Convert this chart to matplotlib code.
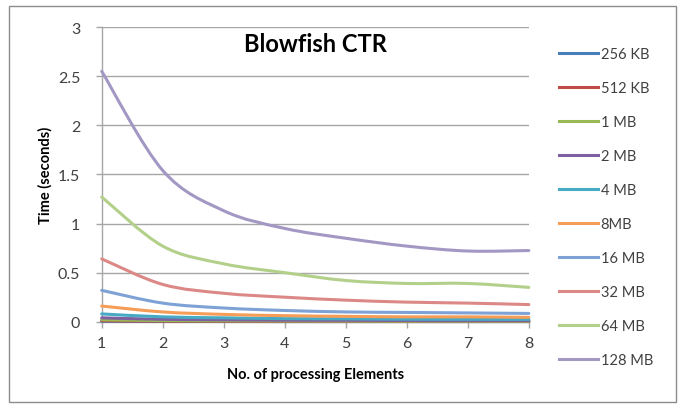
import matplotlib
matplotlib.use("Agg")
import matplotlib.pyplot as plt
from matplotlib.path import Path
from matplotlib.patches import PathPatch, Rectangle
from matplotlib.lines import Line2D
import numpy as np

# Processing elements and run times (seconds) per input size
elements = [1, 2, 3, 4, 5, 6, 7, 8]
labels = ["256 KB", "512 KB", "1 MB", "2 MB", "4 MB", "8MB",
          "16 MB", "32 MB", "64 MB", "128 MB"]
t_256kb = [0.005, 0.003, 0.003, 0.002, 0.002, 0.002, 0.002, 0.002]
t_512kb = [0.010, 0.006, 0.005, 0.004, 0.004, 0.003, 0.003, 0.003]
t_1mb = [0.020, 0.012, 0.010, 0.008, 0.007, 0.006, 0.006, 0.006]
t_2mb = [0.040, 0.025, 0.020, 0.016, 0.015, 0.013, 0.012, 0.012]
t_4mb = [0.080, 0.050, 0.040, 0.032, 0.030, 0.026, 0.025, 0.024]
t_8mb = [0.160, 0.100, 0.075, 0.062, 0.055, 0.050, 0.050, 0.045]
t_16mb = [0.320, 0.190, 0.140, 0.115, 0.100, 0.095, 0.090, 0.085]
t_32mb = [0.640, 0.380, 0.290, 0.250, 0.220, 0.200, 0.190, 0.175]
t_64mb = [1.270, 0.770, 0.590, 0.500, 0.420, 0.390, 0.390, 0.350]
t_128mb = [2.550, 1.540, 1.130, 0.950, 0.850, 0.770, 0.720, 0.725]
series = [t_256kb, t_512kb, t_1mb, t_2mb, t_4mb, t_8mb,
          t_16mb, t_32mb, t_64mb, t_128mb]
colors = ["#4A7EBB", "#BE4B48", "#98B954", "#7D60A0", "#46AAC5",
          "#F59D56", "#7EA1D6", "#DB8886", "#B3D08A", "#A397C4"]

y_ticks = [0, 0.5, 1, 1.5, 2, 2.5, 3]
y_tick_labels = ["0", "0.5", "1", "1.5", "2", "2.5", "3"]

TEXT = "#404040"
GRID = "#A6A6A6"
FONT = "Lato"


def smooth_path(xs, ys):
    """Cubic Bezier path through the points (Catmull-Rom style tangents)."""
    pts = np.column_stack([xs, ys]).astype(float)
    n = len(pts)
    verts = [pts[0]]
    codes = [Path.MOVETO]
    for i in range(n - 1):
        p0 = pts[i - 1] if i > 0 else pts[i]
        p1 = pts[i]
        p2 = pts[i + 1]
        p3 = pts[i + 2] if i + 2 < n else pts[i + 1]
        c1 = p1 + (p2 - p0) / 6.0
        c2 = p2 - (p3 - p1) / 6.0
        verts += [c1, c2, p2]
        codes += [Path.CURVE4] * 3
    return Path(verts, codes)


fig = plt.figure(figsize=(6.78, 4.06), dpi=100)
fig.patch.set_facecolor("white")

# outer chart border
fig.add_artist(Rectangle((9 / 678, 3 / 406), 667 / 678, 396 / 406,
                         transform=fig.transFigure, fill=False,
                         edgecolor="#8C8C8C", lw=1.0))

ax = fig.add_axes([0.150, 0.205, 0.630, 0.726])
ax.set_xlim(1, 8)
ax.set_ylim(0, 3)

for vals, col in zip(series, colors):
    patch = PathPatch(smooth_path(elements, vals), facecolor="none",
                      edgecolor=col, lw=2.2, capstyle="round",
                      joinstyle="round", transform=ax.transData,
                      clip_on=False, zorder=3)
    ax.add_patch(patch)

ax.set_yticks(y_ticks)
ax.set_yticklabels(y_tick_labels)
ax.set_xticks(elements)
ax.set_xticklabels([str(e) for e in elements])
ax.yaxis.grid(True, color=GRID, lw=1.0)
ax.set_axisbelow(True)

for side in ("top", "right"):
    ax.spines[side].set_visible(False)
for side in ("left", "bottom"):
    ax.spines[side].set_color(GRID)
    ax.spines[side].set_linewidth(1.0)

ax.tick_params(axis="both", colors=GRID, labelcolor=TEXT, length=4.5,
               width=1.0, labelsize=11.5)
ax.tick_params(axis="x", pad=6)
ax.tick_params(axis="y", pad=11)
for lbl in ax.get_xticklabels() + ax.get_yticklabels():
    lbl.set_fontfamily(FONT)

ax.set_xlabel("No. of processing Elements", fontsize=10.5,
              fontweight="bold", family=FONT, color="black", labelpad=12)
ax.set_ylabel("Time (seconds)", fontsize=10.5, fontweight="bold",
              family=FONT, color="black", labelpad=4)

fig.text(315 / 678, 1 - 45 / 406, "Blowfish CTR", fontsize=17,
         fontweight="bold", family=FONT, ha="center", va="center",
         color="black")

handles = [Line2D([], [], color=c, lw=2.2) for c in colors]
leg = fig.legend(handles, labels, loc="upper left",
                 bbox_to_anchor=(559 / 678, 1 - 48 / 406),
                 frameon=False, borderpad=0, borderaxespad=0,
                 handlelength=2.7, handletextpad=0.15, labelspacing=1.37,
                 prop={"family": FONT, "size": 10.5})
for txt in leg.get_texts():
    txt.set_color(TEXT)

fig.savefig("out.png", dpi=100, facecolor="white")
